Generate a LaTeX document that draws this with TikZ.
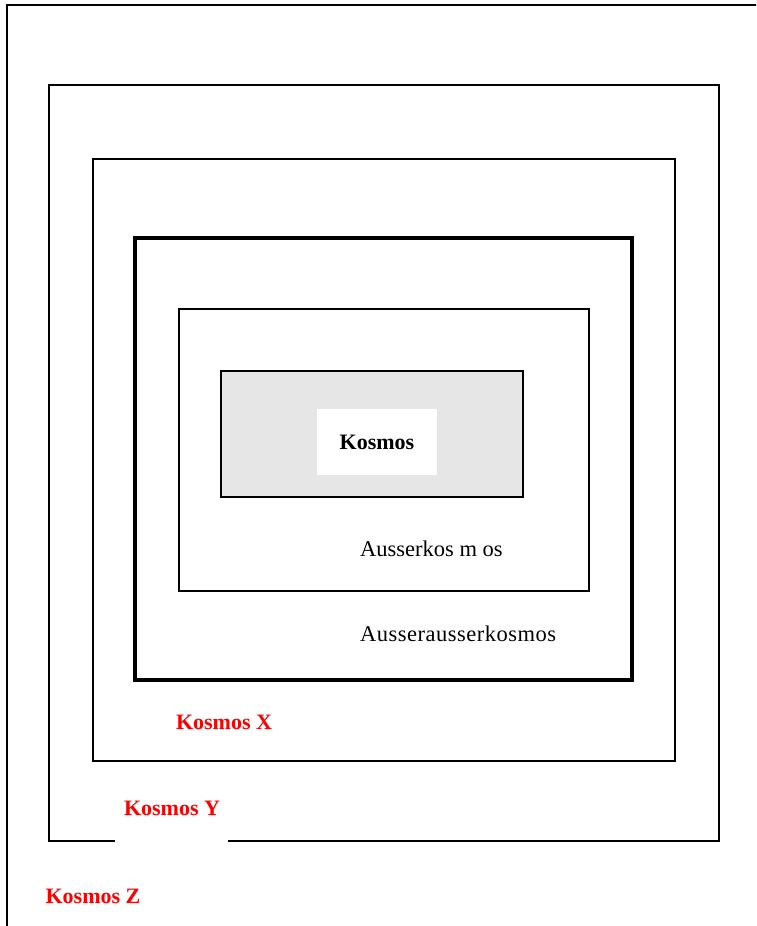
\documentclass[tikz,border=0pt]{standalone}
\usepackage{fontspec}
\setmainfont{Liberation Serif}
\begin{document}
\begin{tikzpicture}[x=1pt,y=-1pt,
  frame/.style={draw=black,line width=1.6pt},
  heavy/.style={draw=black,line width=4.2pt},
  redlbl/.style={text=red,font=\fontsize{22}{24}\selectfont\bfseries,inner sep=0pt},
  plain/.style={font=\fontsize{22.5}{24}\selectfont,inner sep=0pt,anchor=base west}]
\useasboundingbox (0,0) rectangle (756,926);
\fill[white] (0,0) rectangle (756,926);
% outermost (clipped) frame
\begin{scope}
\clip (0,0) rectangle (756,926);
\draw[frame] (7,940) -- (7,5) -- (770,5);
\end{scope}
% frames
\draw[frame] (49,85) rectangle (719,841);
\fill[white] (115,838) rectangle (228,844);
\draw[frame] (93,159) rectangle (675,761);
\draw[heavy] (135,238) rectangle (632,680);
\draw[frame,line width=1.3pt] (179,309) rectangle (589,591);
\draw[frame,line width=1.3pt,fill={rgb,255:red,230;green,230;blue,230}] (221,371) rectangle (523,497);
\node[fill=white,minimum width=120pt,minimum height=66pt,inner sep=0pt] (core) at (377,442) {};
\node[font=\fontsize{22}{24}\selectfont\bfseries,inner sep=0pt] (kosmos) at (core) {Kosmos};
\node[plain] (aussen) at (360,556) {Ausserkos m os};
\node[plain] (aa) at (360,641) {\addfontfeature{LetterSpace=2.2}Ausserausserkosmos};
\node[redlbl] (kx) at (224,722) {Kosmos X};
\node[redlbl] (ky) at (172,808) {Kosmos Y};
\node[redlbl] (kz) at (93,896) {Kosmos Z};
\end{tikzpicture}
\end{document}
